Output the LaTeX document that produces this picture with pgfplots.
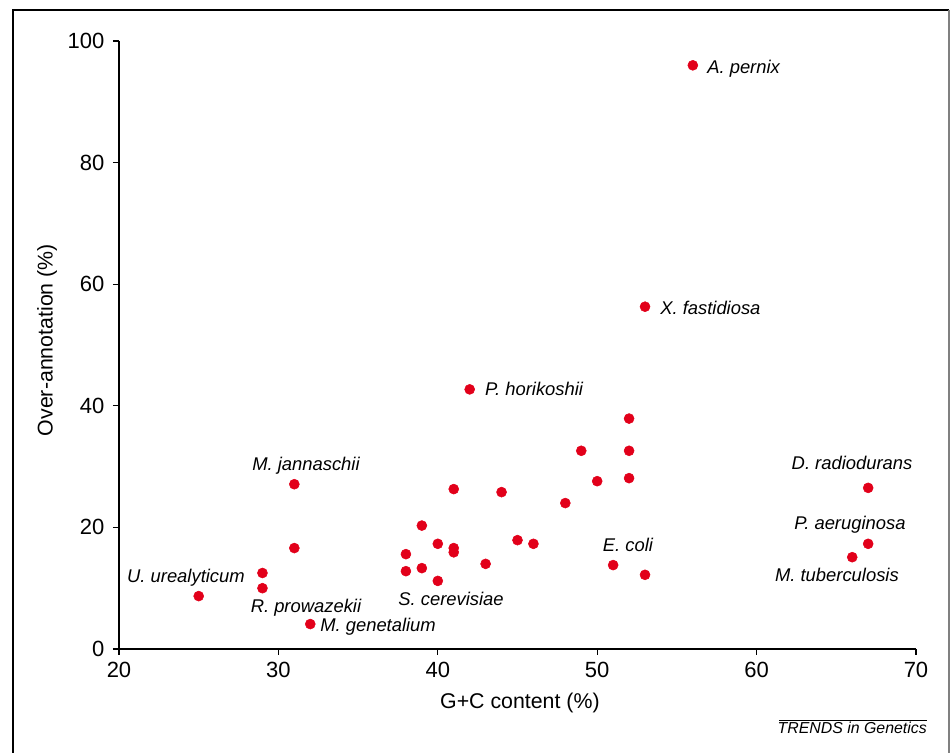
\documentclass[border=0pt]{standalone}
\usepackage{pgfplots}
\pgfplotsset{compat=1.18}
\usepackage{fontspec}
\setmainfont{Liberation Sans}
\definecolor{dotred}{HTML}{E2001A}
\begin{document}
\begin{tikzpicture}
\useasboundingbox (0,0) rectangle (713.25pt,564.75pt);
% frame
\draw[line width=1pt,black] (9.75pt,0pt) -- (9.75pt,557.25pt) -- (711.75pt,557.25pt);
\draw[line width=1.2pt,gray] (711.75pt,557.25pt) -- (711.75pt,0pt);
% source
\node[anchor=mid east,font=\fontsize{11.9}{14}\selectfont\itshape,inner sep=0pt] at (695.25pt,17.25pt) {TRENDS in Genetics};
\draw[line width=0.7pt] (584.25pt,24.75pt) -- (695.25pt,24.75pt);
\begin{axis}[
  at={(89.25pt,78pt)}, anchor=south west,
  scale only axis, width=597.75pt, height=456pt,
  xmin=20, xmax=70, ymin=0, ymax=100,
  axis x line*=bottom, axis y line*=left,
  axis line style={line width=1pt,-},
  xtick={20,30,...,70}, ytick={0,20,...,100},
  tick align=outside, major tick length=4.5pt,
  tick style={line width=1pt,black},
  /pgf/number format/assume math mode=true,
  tick label style={font=\fontsize{16.5}{19}\selectfont},
  xticklabel style={yshift=-2pt},
  yticklabel style={xshift=-3pt},
  label style={font=\fontsize{16}{19}\selectfont},
  xlabel={G+C content (\%)},
  ylabel={Over-annotation (\%)},
  xlabel style={at={(rel axis cs:0.503,-0.0888)},anchor=center},
  ylabel style={at={(rel axis cs:-0.0903,0.508)},anchor=center},
  clip=false,
]
\addplot[only marks, mark=*, mark size=3.75pt, color=dotred, mark options={draw=dotred,fill=dotred}] coordinates {
(56,96) (53,56.3) (42,42.7) (52,37.9) (49,32.6) (52,32.6) (50,27.6) (52,28.1)
(48,24.0) (41,26.3) (44,25.8) (39,20.3) (31,27.1) (31,16.6) (40,17.3) (41,16.6)
(41,15.9) (38,15.6) (38,12.8) (39,13.3) (40,11.2) (43,14.0) (45,17.9) (46,17.3)
(51,13.8) (53,12.2) (29,12.5) (29,10.0) (25,8.7) (32,4.1) (67,26.5) (67,17.3) (66,15.1)
};
\begin{scope}[every node/.style={font=\fontsize{13.8}{16}\selectfont\itshape,inner sep=0pt,yshift=-2.25pt}]
\node[anchor=mid west] at (axis cs:56.89,95.72) {A. pernix};
\node[anchor=mid west] at (axis cs:53.94,56.09) {X. fastidiosa};
\node[anchor=mid west] at (axis cs:42.96,42.76) {P. horikoshii};
\node[anchor=mid west] at (axis cs:32.61,3.95) {M. genetalium};
\node[anchor=mid] at (axis cs:31.73,30.43) {M. jannaschii};
\node[anchor=mid] at (axis cs:24.20,12.01) {U. urealyticum};
\node[anchor=mid] at (axis cs:31.73,7.07) {R. prowazekii};
\node[anchor=mid] at (axis cs:40.83,8.22) {S. cerevisiae};
\node[anchor=mid] at (axis cs:51.93,17.1) {E. coli};
\node[anchor=mid] at (axis cs:65.99,30.59) {D. radiodurans};
\node[anchor=mid] at (axis cs:65.86,20.72) {P. aeruginosa};
\node[anchor=mid] at (axis cs:65.04,12.17) {M. tuberculosis};
\end{scope}
\end{axis}
\end{tikzpicture}
\end{document}
